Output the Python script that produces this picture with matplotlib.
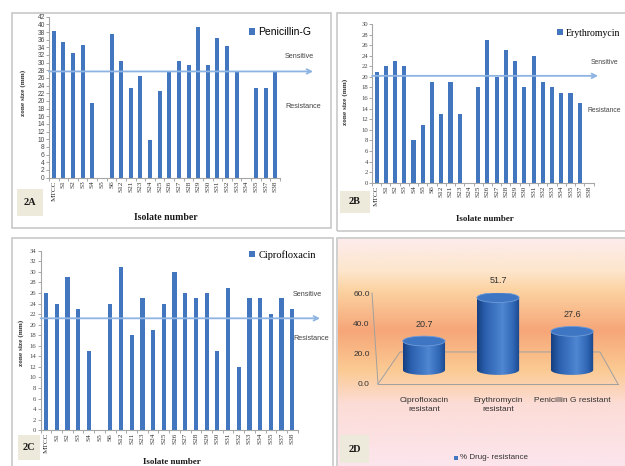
import numpy as np
import matplotlib
matplotlib.use('Agg')
import matplotlib.pyplot as plt
from matplotlib.patches import Rectangle, Ellipse, PathPatch
from matplotlib.path import Path
from matplotlib.colors import LinearSegmentedColormap

# ---- data ----
isolates = ['MTCC', 'S1', 'S2', 'S3', 'S4', 'S5', 'S6', 'S12', 'S21', 'S23', 'S24', 'S25',
            'S26', 'S27', 'S28', 'S29', 'S30', 'S31', 'S32', 'S33', 'S34', 'S35', 'S37', 'S38']
penicillin = [38.3, 35.4, 32.5, 34.5, 19.5, 0, 37.4, 30.4, 23.5, 26.4, 9.8, 22.6,
              27.6, 30.4, 29.5, 39.3, 29.5, 36.4, 34.4, 27.6, 0, 23.5, 23.5, 27.6]
erythromycin = [21, 22, 23, 22, 8, 11, 19, 13, 19, 13, 0, 18,
                27, 20, 25, 23, 18, 24, 19, 18, 17, 17, 15, 0]
ciprofloxacin = [26, 24, 29, 23, 15, 0, 24, 31, 18, 25, 19, 24,
                 30, 26, 25, 26, 15, 27, 12, 25, 25, 22, 25, 23]
cutoff_pen = 27.7
cutoff_ery = 20.2
cutoff_cip = 21.2

resist_labels = ['Ciprofloxacin\nresistant', 'Erythromycin\nresistant', 'Penicillin G resistant']
resist_pct = [20.7, 51.7, 27.6]

W, H = 625, 466
BAR = '#4277c0'
ARROW = '#8db4e2'
SERIF = 'Liberation Serif'
SANS = 'Liberation Sans'

fig = plt.figure(figsize=(W / 100, H / 100), dpi=100)
fig.patch.set_facecolor('white')


def px_axes(x0, y0, x1, y1, **kw):
    return fig.add_axes([x0 / W, 1 - y1 / H, (x1 - x0) / W, (y1 - y0) / H], **kw)


def fig_xy(x, y):
    return x / W, 1 - y / H


def frame(x0, y0, x1, y1):
    fig.patches.append(Rectangle(fig_xy(x0, y1), (x1 - x0) / W, (y1 - y0) / H,
                                 transform=fig.transFigure, fill=False,
                                 edgecolor='#c8c8c8', lw=1.2, zorder=0))


def tag(x0, y0, x1, y1, s):
    fig.patches.append(Rectangle(fig_xy(x0, y1), (x1 - x0) / W, (y1 - y0) / H,
                                 transform=fig.transFigure, facecolor='#eeeadb',
                                 edgecolor='none', zorder=5))
    fig.text(*fig_xy((x0 + x1) / 2, (y0 + y1) / 2), s, ha='center', va='center',
             fontsize=7.5, fontweight='bold', family=SERIF, color='#1a1a1a', zorder=6)


def bar_panel(box, values, ymax, cutoff, arrow_end, legend_name, legend_xy, legend_font,
              legend_size, tick_font, sens_xy, res_xy, wid, note_size=5.2):
    ax = px_axes(*box)
    x = np.arange(len(isolates))
    ax.bar(x, values, width=wid, color=BAR, label=legend_name, zorder=2)
    ax.set_xlim(-0.5, len(isolates) - 0.5)
    ax.set_ylim(0, ymax)
    ax.set_yticks(range(0, ymax + 1, 2))
    ax.tick_params(axis='y', labelsize=4.8, length=2, width=0.6, color='#999999',
                   pad=1, labelcolor='#444444')
    for t in ax.get_yticklabels():
        t.set_family(tick_font)
    ax.set_xticks(x)
    ax.set_xticklabels(isolates, rotation=90, fontsize=5.2, family=SERIF, color='#333333')
    ax.set_xticks(np.arange(-0.5, len(isolates), 1), minor=True)
    ax.tick_params(axis='x', which='major', length=0, pad=2)
    ax.tick_params(axis='x', which='minor', length=2.5, width=0.6, color='#999999')
    for s in ['top', 'right']:
        ax.spines[s].set_visible(False)
    for s in ['left', 'bottom']:
        ax.spines[s].set_color('#a6a6a6')
        ax.spines[s].set_linewidth(0.8)
    ax.annotate('', xy=(arrow_end, cutoff), xytext=(0, cutoff),
                xycoords=ax.get_yaxis_transform(), textcoords=ax.get_yaxis_transform(),
                annotation_clip=False,
                arrowprops=dict(arrowstyle='->', color=ARROW, lw=1.3, mutation_scale=8,
                                shrinkA=0, shrinkB=0), zorder=3)
    ax.legend(loc='center left', bbox_to_anchor=fig_xy(*legend_xy), bbox_transform=fig.transFigure,
              frameon=False, handlelength=0.6, handleheight=0.6, handletextpad=0.3,
              borderaxespad=0, borderpad=0, prop={'family': legend_font, 'size': legend_size})
    fig.text(*fig_xy(*sens_xy), 'Sensitive', fontsize=note_size, family=SANS, color='#444444',
             va='center')
    fig.text(*fig_xy(*res_xy), 'Resistance', fontsize=note_size, family=SANS, color='#444444',
             va='center')
    return ax


# ---- panel frames ----
frame(12, 13, 331, 228)
frame(337, 13, 627, 231)
frame(12, 238, 333, 469)
frame(337, 238, 627, 469)

# ---- 2A Penicillin ----
bar_panel((49, 16.7, 280, 177.5), penicillin, 42, cutoff_pen, 1.143, 'Penicillin-G',
          (249, 32), SANS, 7.5, SANS, (285, 57), (285, 107), 0.42)
fig.text(*fig_xy(23, 93), 'zone size (mm)', rotation=90, fontsize=5.2, fontweight='bold',
         family=SERIF, ha='center', va='center', color='#333333')
fig.text(*fig_xy(166, 217), 'Isolate number', fontsize=7, fontweight='bold', family=SERIF,
         ha='center', va='center', color='#1a1a1a')
tag(17, 189, 43, 216, '2A')

# ---- 2B Erythromycin ----
bar_panel((372, 24, 593.6, 182.7), erythromycin, 30, cutoff_ery, 1.02, 'Erythromycin',
          (557, 33), SERIF, 7.0, SERIF, (591, 62), (588, 111), 0.45, note_size=4.9)
fig.text(*fig_xy(345, 102), 'zone size (mm)', rotation=90, fontsize=5.2, fontweight='bold',
         family=SERIF, ha='center', va='center', color='#333333')
fig.text(*fig_xy(485, 219), 'Isolate number', fontsize=6.5, fontweight='bold', family=SERIF,
         ha='center', va='center', color='#1a1a1a')
tag(340, 191, 370, 213, '2B')

# ---- 2C Ciprofloxacin ----
bar_panel((40.6, 250.7, 297.7, 430.3), ciprofloxacin, 34, cutoff_cip, 1.087, 'Ciprofloxacin',
          (249, 255), SERIF, 7.5, SERIF, (293, 295), (293, 338), 0.4)
fig.text(*fig_xy(21, 343), 'zone size (mm)', rotation=90, fontsize=5.2, fontweight='bold',
         family=SERIF, ha='center', va='center', color='#333333')
fig.text(*fig_xy(172, 465.5), 'Isolate number', fontsize=6.5, fontweight='bold', family=SERIF,
         ha='center', va='bottom', color='#1a1a1a')
tag(18, 435, 40, 460, '2C')

# ---- 2D % drug resistance ----
bg = px_axes(338, 239, 626, 468)
grad = LinearSegmentedColormap.from_list('bg', [
    (0.0, '#fdecec'), (0.14, '#fde6cc'), (0.22, '#fcd3a2'), (0.40, '#f6a678'),
    (0.57, '#fbca92'), (0.72, '#fcdcd6'), (1.0, '#fce6ee')])
bg.imshow(np.linspace(0, 1, 256).reshape(-1, 1), cmap=grad, aspect='auto',
          extent=(0, 1, 1, 0))
bg.set_xlim(0, 1)
bg.set_ylim(1, 0)
bg.axis('off')

axD = px_axes(378, 293, 618, 384)
axD.patch.set_alpha(0)
axD.set_ylim(0, 60)
axD.set_xlim(0, 1)
axD.set_yticks([0, 20, 40, 60])
axD.set_yticklabels(['%.1f' % v for v in [0, 20, 40, 60]], fontsize=6, family=SANS,
                    color='#333333')
axD.tick_params(axis='y', length=0, pad=6)
axD.set_xticks([])
for s in axD.spines.values():
    s.set_visible(False)
line_kw = dict(transform=axD.transAxes, color='#a0a0a0', lw=0.7, clip_on=False)
axD.plot([-0.025, 0], [1.0, 0], **line_kw)
axD.plot([0, 1], [0, 0], **line_kw)
axD.plot([0, 0.092, 0.925, 1], [0, 0.352, 0.352, 0], **line_kw)

# cylinders live on their own scale (base sits mid-depth on the floor)
axC = px_axes(378, 293, 618, 384)
axC.patch.set_alpha(0)
axC.axis('off')
cyl_w = 0.57
ell_h = 7.0
body = LinearSegmentedColormap.from_list('cyl', [
    (0.0, '#173f80'), (0.18, '#2a5fae'), (0.6, '#4f87d2'), (0.85, '#3067b6'), (1.0, '#1b478c')])
for i, v in enumerate(resist_pct):
    t = np.linspace(np.pi, 2 * np.pi, 40)
    verts = [(i + cyl_w / 2 * np.cos(a), ell_h / 2 * np.sin(a)) for a in t]
    verts += [(i + cyl_w / 2, v), (i - cyl_w / 2, v), verts[0]]
    clip = PathPatch(Path(verts, closed=True), facecolor='none', edgecolor='none')
    axC.add_patch(clip)
    im = axC.imshow(np.linspace(0, 1, 64).reshape(1, -1), cmap=body, aspect='auto',
                    extent=(i - cyl_w / 2, i + cyl_w / 2, -ell_h / 2, v), zorder=2)
    im.set_clip_path(clip)
    axC.add_patch(Ellipse((i, v), cyl_w, ell_h, facecolor='#3f76c4', edgecolor='#6f9bd8',
                          lw=0.6, zorder=3))
    axC.text(i, v + 12, '%.1f' % v, ha='center', va='center', fontsize=6.5, family=SANS,
             color='#333333')
    axC.text(i, -19.3, resist_labels[i], ha='center', va='top', fontsize=6, family=SANS,
             color='#333333', clip_on=False, linespacing=1.3)
axC.set_xlim(-0.62, 2.62)
axC.set_ylim(-10, 55)

fig.patches.append(Rectangle(fig_xy(454, 460), 4 / W, 4 / H, transform=fig.transFigure,
                             facecolor=BAR, edgecolor='none'))
fig.text(*fig_xy(460, 457.5), '% Drug- resistance', fontsize=5.8, family=SANS,
         color='#333333', va='center')
tag(340, 435, 369, 463, '2D')

fig.savefig('out.png', dpi=100)
